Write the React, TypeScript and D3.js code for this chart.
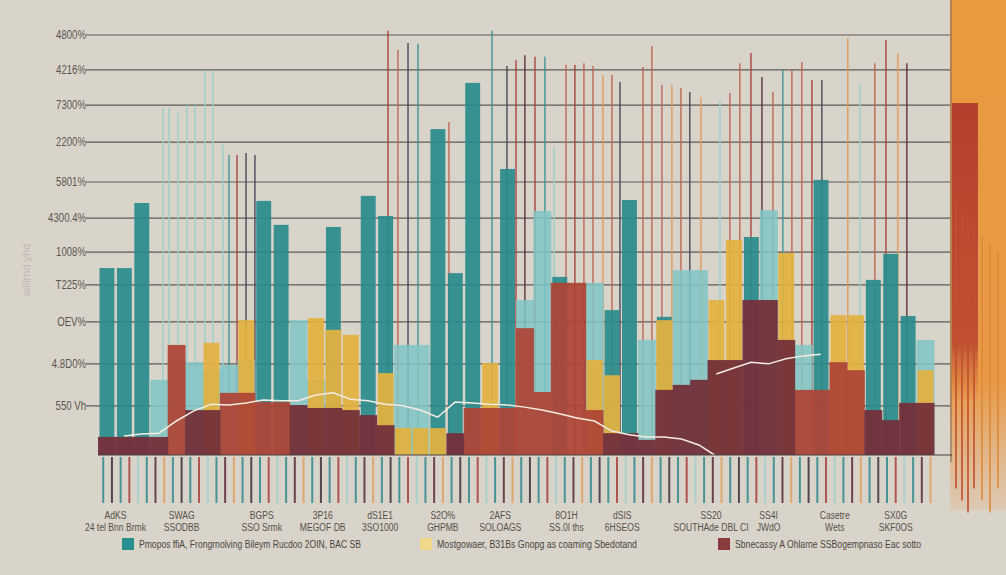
import React from "react";
import * as d3 from "d3";

const W = 1006;
const H = 575;

const slots = Array.from({ length: 48 }, (_, i) => i);

const tealDark = [44.5,44.5,60,0,0,0,0,0,0,60.5,54.8,0,0,54.3,0,61.7,56.9,0,0,77.6,43.3,88.6,0,68.1,0,0,42.4,0,0,34.5,60.7,0,32.9,0,0,0,0,51.9,0,0,0,65.5,0,0,41.7,47.9,33.1,0];
const tealLight = [0,0,0,17.9,22.6,22.1,20.2,21.4,22.6,0,0,32.1,17.9,0,0,0,0,26.2,26.2,0,0,0,0,0,36.9,58.1,0,0,41.0,0,0,27.4,0,44.0,44.0,0,0,0,58.3,0,26.2,0,0,0,0,0,0,27.4];
const yellow = [0,0,0,0,0,0,26.7,0,32.1,0,0,0,32.6,29.8,28.6,0,19.5,6.4,6.4,6.4,0,0,21.9,0,0,0,0,0,22.6,19.0,0,0,32.1,0,0,36.9,51.2,0,0,48.1,0,0,33.3,33.3,0,0,0,20.2];
const brick = [0,0,0,0,26.2,0,0,14.8,14.8,12.6,12.6,0,0,0,0,0,0,0,0,0,0,11.2,11.2,11.2,30.2,15.0,41.0,41.0,10.7,0,0,0,0,0,0,0,0,0,0,0,15.5,15.5,22.1,20.2,0,0,0,0];
const maroon = [4.3,4.3,4.3,4.3,0,10.7,10.7,0,0,0,0,11.9,11.2,11.2,10.7,9.5,7.1,0,0,0,5.2,0,0,0,0,0,0,0,0,5.2,5.2,3.6,15.5,16.7,17.9,22.6,22.6,36.9,36.9,27.4,0,0,0,0,10.7,8.3,12.4,12.4];

// thin spikes: [position (slot units), value, colour key]
const spikes: [number, number, string][] = [
  [3.73,82.6,"lt"],[4.08,82.6,"lt"],[4.59,81.4,"lt"],[5.11,83.3,"lt"],[5.57,83.3,"lt"],[6.14,91.7,"lt"],[6.6,91.7,"lt"],[7.17,73.8,"lt"],[7.52,71.4,"tl"],[7.98,71.4,"rd"],[8.5,71.9,"nv"],[9.01,71.4,"nv"],
  [16.65,101,"rd"],[17.22,96.4,"br"],[17.8,98.1,"nv"],[18.37,97.9,"tl"],[20.15,79.3,"br"],[22.62,101,"tl"],[23.48,92.6,"nv"],[24.0,94.0,"rd"],[24.51,95.2,"dk"],[25.09,94.8,"rd"],[25.66,94.8,"tl"],[26.18,73.3,"lt"],
  [26.87,92.9,"br"],[27.38,92.9,"rd"],[27.9,93.3,"br"],[28.42,92.6,"br"],[28.99,90.5,"or"],[29.51,90.5,"br"],[29.97,88.8,"nv"],[31.29,92.4,"br"],[31.8,97.4,"br"],[32.38,88.1,"br"],[32.95,88.1,"or"],[33.47,87.4,"br"],[33.98,86.4,"nv"],[34.62,85.2,"or"],
  [35.71,84.5,"lt"],[36.28,86.2,"br"],[36.85,93.3,"br"],[37.49,95.7,"rd"],[38.12,90.0,"dk"],[38.75,86.4,"br"],[39.32,91.7,"tl"],[39.84,91.7,"br"],[40.41,93.6,"br"],[40.99,89.3,"rd"],[41.56,89.3,"nv"],[43.05,99.3,"or"],[43.74,88.1,"lt"],[44.6,93.3,"br"],[45.24,98.8,"rd"],[45.92,95.7,"or"],[46.44,93.3,"dk"],
];

const trendA: [number, number][] = [[1,4.5],[2,5.0],[3,5.2],[4,8.1],[5,10.5],[6,12.1],[7,11.9],[8,12.4],[9,13.1],[10,12.9],[11,12.9],[12,14.3],[13,14.8],[14,13.3],[15,12.9],[16,12.1],[17,11.7],[18,10.7],[19,9.0],[20,12.6],[21,12.4],[22,12.1],[23,11.9],[24,11.4],[25,10.7],[26,9.8],[27,8.8],[28,8.1],[29,5.7],[30,4.8],[31,4.3],[32,4.3],[33,3.8],[34,2.4],[34.9,0]];
const trendB: [number, number][] = [[35,19.3],[36,20.7],[37,22.1],[38,21.7],[39,22.9],[40,23.6],[41,24.0]];

const yTicks = [100, 91.7, 83.3, 74.5, 65.0, 56.4, 48.3, 40.5, 31.7, 21.7, 11.7];
const yTickLabels = ["4800%", "4216%", "7300%", "2200%", "5801%", "4300.4%", "1008%", "T225%", "OEV%", "4.8D0%", "550 Vh"];

const xLabelPos = [1.0, 4.8, 9.4, 12.9, 16.2, 19.8, 23.1, 26.9, 30.1, 35.2, 38.5, 42.3, 45.8];
const xLabelTop = ["AdKS", "SWAG", "BGPS", "3P16", "dS1E1", "S2O%", "2AFS", "8O1H", "dSIS", "SS20", "SS4I", "Casetre", "SX0G"];
const xLabelBottom = ["24 tel Bnn Brmk", "SSODBB", "SSO Srmk", "MEGOF DB", "3SO1000", "GHPMB", "SOLOAGS", "SS.0I ths", "6HSEOS", "SOUTHAde  DBL CI", "JWdO", "Wets", "SKF0OS"];

const legendNames = [
  "Pmopos ffiA, Frongrnolving Bileym Rucdoo 2OIN, BAC SB",
  "Mostgowaer, B31Bs Gnopg as coaming Sbedotand",
  "Sbnecassy A Ohlarne SSBogempnaso Eac sotto",
];

const COL: Record<string, string> = {
  lt: "#98cfce",
  tl: "#3a9496",
  rd: "#a8413e",
  br: "#c0644f",
  or: "#e09a5c",
  nv: "#45465a",
  dk: "#5f3038",
};

const tickColours = ["#2f8a8e", "#3c2d3d", "#2f8a8e", "#a8403a", "#9fd0cf", "#2f8a8e", "#5b2a35", "#e0a060"];

export default function App() {
  const x = d3.scaleBand<number>().domain(slots).range([98, 934]).padding(0);
  const xp = d3.scaleLinear().domain([0, 48]).range([98, 934]);
  const y = d3.scaleLinear().domain([0, 100]).range([455, 35]);
  const bw = x.bandwidth();
  const font = "'Liberation Sans', 'DejaVu Sans', sans-serif";

  const bars = (vals: number[], fill: string, opacity: number, key: string, inset: number) =>
    vals.map((v, i) =>
      v > 0 ? (
        <rect key={key + i} x={x(i)! + inset} y={y(v)} width={bw + 0.5 - 2 * inset} height={y(0) - y(v)} fill={fill} opacity={opacity} />
      ) : null
    );

  const line = d3
    .line<[number, number]>()
    .x((d) => xp(d[0] + 0.5))
    .y((d) => y(d[1]))
    .curve(d3.curveLinear);

  const tickXs = d3.range(0, 48, 0.5).map((v) => xp(v + 0.3));

  const narrow = (xx: number, yy: number, s: number) => `translate(${xx},${yy}) scale(${s},1)`;

  return (
    <svg width={W} height={H} style={{ position: "absolute", left: 0, top: 0 }} fontFamily={font}>
      <rect width={W} height={H} fill="#d9d4ca" />
      <defs>
        <linearGradient id="org" x1="0" y1="0" x2="0" y2="1">
          <stop offset="0" stopColor="#e99a3e" />
          <stop offset="0.75" stopColor="#e99a45" />
          <stop offset="1" stopColor="#e9a060" stopOpacity="0.2" />
        </linearGradient>
        <linearGradient id="redg" x1="0" y1="0" x2="0" y2="1">
          <stop offset="0" stopColor="#b4412f" />
          <stop offset="0.8" stopColor="#c05033" />
          <stop offset="1" stopColor="#d07040" stopOpacity="0" />
        </linearGradient>
      </defs>

      {/* grid */}
      {yTicks.map((t, i) => (
        <g key={"g" + i}>
          <line x1={86} x2={950} y1={y(t)} y2={y(t)} stroke="#4a4440" strokeWidth={1.1} opacity={0.85} />
          <text transform={narrow(86, y(t) + 4, 0.8)} textAnchor="end" fontSize={12} fill="#5a5550">
            {yTickLabels[i]}
          </text>
        </g>
      ))}
      <text transform="translate(30,270) rotate(-90)" textAnchor="middle" fontSize={11} fill="#bfb9b0">
        ailllrnd yhd
      </text>

      {/* right decorative panel */}
      <rect x={950} y={0} width={56} height={510} fill="url(#org)" />
      <rect x={952} y={y(83.8)} width={26} height={300} fill="url(#redg)" />
      {[956, 962, 968, 974, 982, 990, 998].map((xx, i) => (
        <line key={"rp" + i} x1={xx} x2={xx} y1={y(60) + i * 8} y2={y(-8) + (i % 3) * 12} stroke={i < 4 ? "#c0502e" : "#dd8a3a"} strokeWidth={2} opacity={0.8} />
      ))}
      <line x1={951} x2={951} y1={0} y2={462} stroke="#7a6a60" strokeWidth={1} />

      {/* spikes */}
      {spikes.map(([p, v, c], i) => (
        <line key={"s" + i} x1={xp(p)} x2={xp(p)} y1={y(v)} y2={y(0)} stroke={COL[c]} strokeWidth={1.6} opacity={0.85} />
      ))}

      {bars(tealLight, "#80c6c6", 0.85, "tl", 0)}
      {bars(tealDark, "#2a8b8c", 0.92, "td", 1.5)}
      {bars(yellow, "#e2b13f", 0.93, "ye", 1)}
      {bars(brick, "#ad4536", 0.93, "br", 0)}
      {bars(maroon, "#73303a", 0.95, "ma", 0)}

      {/* trend line */}
      <path d={line(trendA) || ""} fill="none" stroke="#f4ece0" strokeWidth={1.5} />
      <path d={line(trendB) || ""} fill="none" stroke="#f4ece0" strokeWidth={1.5} />

      {/* baseline */}
      <line x1={98} x2={952} y1={y(0)} y2={y(0)} stroke="#4a4040" strokeWidth={1} />

      {/* bottom ticks */}
      {tickXs.map((tx, i) => (
        <line key={"t" + i} x1={tx} x2={tx} y1={y(0) + 2} y2={y(0) + 48} stroke={tickColours[i % tickColours.length]} strokeWidth={2} opacity={0.85} />
      ))}

      {/* x labels */}
      {xLabelPos.map((p, i) => (
        <g key={"xl" + i} fontSize={11} fill="#555048" textAnchor="middle">
          <text transform={narrow(xp(p), 519, 0.78)}>{xLabelTop[i]}</text>
          <text transform={narrow(xp(p), 531, 0.78)}>{xLabelBottom[i]}</text>
        </g>
      ))}

      {/* legend */}
      {[
        { x: 122, c: "#2a9090", w: 222 },
        { x: 420, c: "#f0d98a", w: 200 },
        { x: 718, c: "#8a3a3c", w: 186 },
      ].map((l, i) => (
        <g key={"lg" + i}>
          <rect x={l.x} y={538} width={12} height={12} fill={l.c} />
          <text x={l.x + 17} y={548} fontSize={11} fill="#4a4540" textLength={l.w} lengthAdjust="spacingAndGlyphs">
            {legendNames[i]}
          </text>
        </g>
      ))}
    </svg>
  );
}
